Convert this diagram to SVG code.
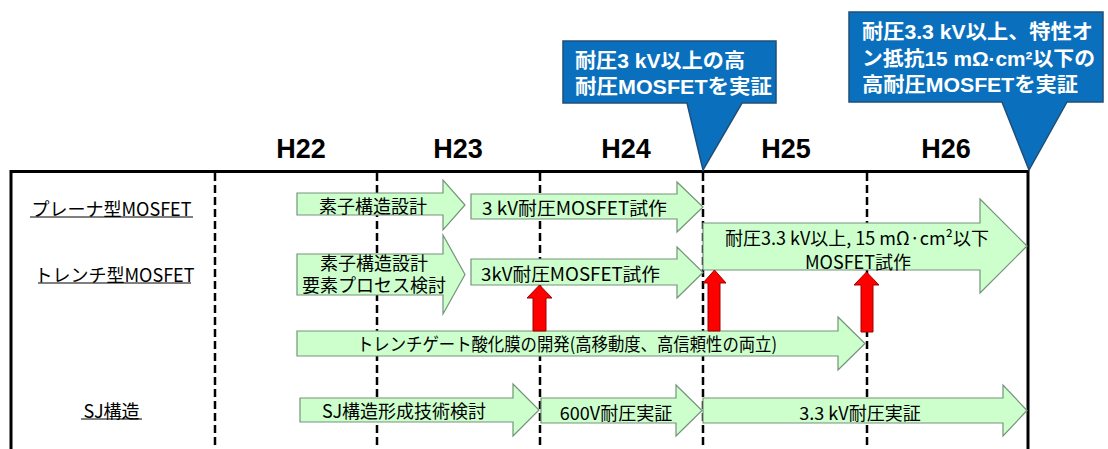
<svg xmlns="http://www.w3.org/2000/svg" width="1108" height="449" viewBox="0 0 1108 449">
<style>
.task{fill:#CCFFCC;stroke:#74947A;stroke-width:1.2}
.lbl{font-family:"Noto Sans CJK JP","Liberation Sans",sans-serif;font-size:18px;fill:#000;dominant-baseline:central}
.lbl2{font-family:"Liberation Sans","Noto Sans CJK JP",sans-serif;font-size:18px;fill:#000;dominant-baseline:central}
.mid{text-anchor:middle}
.hdr{font-family:"Liberation Sans",Arial,sans-serif;font-weight:bold;font-size:27px;fill:#000;text-anchor:middle}
.call{fill:#0A70BE;stroke:#1F4E79;stroke-width:1.5}
.ctxt{font-family:"Liberation Sans","Noto Sans CJK JP",sans-serif;font-weight:bold;font-size:20px;fill:#fff;dominant-baseline:central}
.grid{stroke:#000;stroke-width:2.5;stroke-dasharray:8 4;fill:none}
.frame{stroke:#000;stroke-width:3;fill:none}
.ul{stroke:#000;stroke-width:1.2}
.red{fill:#FF0000;stroke:#A00000;stroke-width:1}
</style>
<rect width="1108" height="449" fill="#fff"/>
<g id="grid">
<path class="frame" d="M11,449 V171.5 H1028 V449"/>
<line class="grid" x1="215" y1="173" x2="215" y2="449"/>
<line class="grid" x1="377" y1="173" x2="377" y2="449"/>
<line class="grid" x1="540" y1="173" x2="540" y2="449"/>
<line class="grid" x1="703" y1="173" x2="703" y2="449"/>
<line class="grid" x1="867" y1="173" x2="867" y2="449"/>
</g>
<g id="headers">
<text class="hdr" x="301" y="158">H22</text>
<text class="hdr" x="458" y="158">H23</text>
<text class="hdr" x="626" y="158">H24</text>
<text class="hdr" x="786" y="158">H25</text>
<text class="hdr" x="946" y="158">H26</text>
</g>
<g id="row-planar">
<text class="lbl mid" x="111.5" y="208">プレーナ型MOSFET</text>
<line class="ul" x1="30" y1="217" x2="193" y2="217"/>
</g>
<g id="row-trench">
<text class="lbl mid" x="114.5" y="274">トレンチ型MOSFET</text>
<line class="ul" x1="38" y1="283" x2="191" y2="283"/>
</g>
<g id="row-sj">
<text class="lbl mid" x="111.5" y="410">SJ構造</text>
<line class="ul" x1="81" y1="419" x2="142" y2="419"/>
</g>
<g id="task-planar-design">
<path class="task" d="M297,193 H443 V180 L465,205 L443,230 V215 H297 Z"/>
<text class="lbl mid" x="373" y="205">素子構造設計</text>
</g>
<g id="task-planar-3kv">
<path class="task" d="M471,194 H677 V182 L703,207 L677,232 V219 H471 Z"/>
<text class="lbl" x="482" y="207" textLength="185" lengthAdjust="spacingAndGlyphs">3 kV耐圧MOSFET試作</text>
</g>
<g id="task-trench-design">
<path class="task" d="M297,254 H443 V235 L465,274.5 L443,314 V295 H297 Z"/>
<text class="lbl2 mid" x="374" y="264">素子構造設計</text>
<text class="lbl2 mid" x="374" y="286">要素プロセス検討</text>
</g>
<g id="task-trench-3kv">
<path class="task" d="M471,259 H677 V247 L703,272.5 L677,298 V285 H471 Z"/>
<text class="lbl" x="481" y="273" textLength="179" lengthAdjust="spacingAndGlyphs">3kV耐圧MOSFET試作</text>
</g>
<g id="task-33kv-mosfet">
<path class="task" d="M703,223 H980 V199 L1027,246 L980,293 V270 H703 Z"/>
<text class="lbl mid" x="857" y="237">耐圧3.3 kV以上, 15 mΩ·cm²以下</text>
<text class="lbl mid" x="858" y="261">MOSFET試作</text>
</g>
<g id="task-gate-oxide">
<path class="task" d="M297,331 H838 V317 L865,343.5 L838,370 V356 H297 Z"/>
<text class="lbl" x="357" y="343" textLength="420" lengthAdjust="spacingAndGlyphs">トレンチゲート酸化膜の開発(高移動度、高信頼性の両立)</text>
</g>
<g id="task-sj-formation">
<path class="task" d="M300,398 H513 V384 L539,410 L513,436 V422 H300 Z"/>
<text class="lbl" x="322" y="410">SJ構造形成技術検討</text>
</g>
<g id="task-sj-600v">
<path class="task" d="M541,398 H676 V385 L702,410.5 L676,436 V423 H541 Z"/>
<text class="lbl mid" x="616" y="412">600V耐圧実証</text>
</g>
<g id="task-sj-33kv">
<path class="task" d="M703,398 H1003 V385 L1027,410.5 L1003,436 V423 H703 Z"/>
<text class="lbl mid" x="860" y="412">3.3 kV耐圧実証</text>
</g>
<g id="connectors">
<path class="red" d="M533,331 V298 H527 L539.5,285 L552,298 H546 V331 Z"/>
<path class="red" d="M708,331 V283 H703 L714.5,270 L726,283 H720 V331 Z"/>
<path class="red" d="M861,332 V285 H854 L866.5,272 L879,285 H873 V332 Z"/>
</g>
<g id="callout-3kv">
<path class="call" d="M563,41 H776 V103 H742 L703,170 L687,103 H563 Z"/>
<text class="ctxt" x="575" y="61" textLength="170" lengthAdjust="spacingAndGlyphs">耐圧3 kV以上の高</text>
<text class="ctxt" x="575" y="87" textLength="197" lengthAdjust="spacingAndGlyphs">耐圧MOSFETを実証</text>
</g>
<g id="callout-33kv">
<path class="call" d="M849,12 H1103 V102 H1067 L1029,170 L1002,102 H849 Z"/>
<text class="ctxt" x="862" y="32" textLength="231" lengthAdjust="spacingAndGlyphs">耐圧3.3 kV以上、特性オ</text>
<text class="ctxt" x="862" y="58.5" textLength="233" lengthAdjust="spacingAndGlyphs">ン抵抗15 mΩ·cm²以下の</text>
<text class="ctxt" x="862" y="85" textLength="216" lengthAdjust="spacingAndGlyphs">高耐圧MOSFETを実証</text>
</g>
</svg>
